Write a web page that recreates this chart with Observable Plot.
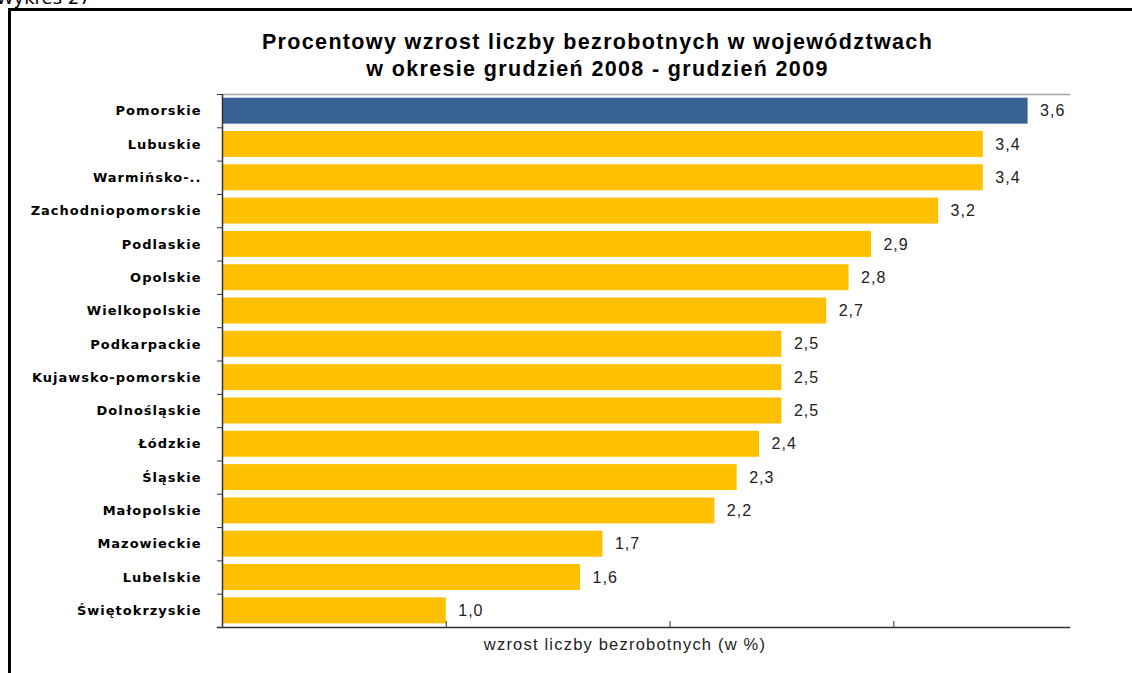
<!DOCTYPE html>
<html>
<head>
<meta charset="utf-8">
<script src="https://cdn.jsdelivr.net/npm/d3@7"></script>
<script src="https://cdn.jsdelivr.net/npm/@observablehq/plot@0.6"></script>
<style>
  html, body { margin: 0; padding: 0; background: #fff; overflow: hidden; width: 1132px; height: 673px; }
  #wrap { position: relative; width: 1132px; height: 673px; overflow: hidden; }
  #frame { position: absolute; left: 8px; top: 8px; width: 1140px; height: 700px; border: 3px solid #000; box-sizing: border-box; }
  #caption { position: absolute; left: -4px; top: -13px; font-family: "DejaVu Sans", Verdana, sans-serif; font-size: 18px; color: #000; white-space: nowrap; }
  #title { position: absolute; left: 0; width: 1195px; top: 29px; text-align: center; font-family: "Liberation Sans", Arial, sans-serif; font-weight: bold; font-size: 21.5px; letter-spacing: 1.35px; line-height: 27px; color: #000; }
  #chart { position: absolute; left: 0; top: 0; }
  #chart svg { background: transparent; }
  #chart g[aria-label="y-axis tick label"] text { letter-spacing: 1px; }
  #chart g.vals text { letter-spacing: 1px; }
  #chart g.xlab text { letter-spacing: 1.2px; }
</style>
</head>
<body>
<div id="wrap">
  <div id="caption">Wykres 27</div>
  <div id="frame"></div>
  <div id="title">Procentowy wzrost liczby bezrobotnych w województwach<br>w okresie grudzień 2008 - grudzień 2009</div>
  <div id="chart"></div>
</div>
<script>
const regions = ["Pomorskie","Lubuskie","Warmińsko-..","Zachodniopomorskie","Podlaskie","Opolskie","Wielkopolskie","Podkarpackie","Kujawsko-pomorskie","Dolnośląskie","Łódzkie","Śląskie","Małopolskie","Mazowieckie","Lubelskie","Świętokrzyskie"];
const values = [3.6,3.4,3.4,3.2,2.9,2.8,2.7,2.5,2.5,2.5,2.4,2.3,2.2,1.7,1.6,1.0];
const highlight = ["Pomorskie"];
const xTicks = [1,2,3];
const xLabel = "wzrost liczby bezrobotnych (w %)";

const data = regions.map((r, i) => ({region: r, value: values[i]}));

const W = 1132, H = 673;
const mTop = 94, mBottom = 46, mLeft = 222, mRight = 63;
const step = (H - mTop - mBottom) / regions.length;

const plot = Plot.plot({
  width: W,
  height: H,
  marginTop: mTop,
  marginBottom: mBottom,
  marginLeft: mLeft,
  marginRight: mRight,
  style: {background: "transparent", fontFamily: "DejaVu Sans, Verdana, sans-serif"},
  x: {domain: [0, 3.785], axis: null},
  y: {domain: regions, paddingInner: 0.22, paddingOuter: 0.11, round: false, axis: null},
  marks: [
    Plot.frame({anchor: "top", stroke: "#a6a6a6", strokeWidth: 1.5}),
    Plot.barX(data, {
      y: "region", x: "value",
      fill: d => highlight.includes(d.region) ? "#376193" : "#ffc000"
    }),
    Plot.text(data, {
      y: "region", x: "value",
      text: d => d.value.toFixed(1).replace(".", ","),
      dx: 12, textAnchor: "start", className: "vals",
      fontFamily: "Liberation Sans, Arial, sans-serif", fontSize: 16, fill: "#222"
    }),
    Plot.axisY({
      tickSize: 0, tickPadding: 21,
      fontFamily: "DejaVu Sans, Verdana, sans-serif", fontWeight: "bold", fontSize: 13, fill: "#000",
      label: null
    }),
    // category separators on the y axis (between bands)
    Plot.ruleY(regions, {y: d => d, dy: -step / 2, x1: 0, x2: 0, insetLeft: -5, stroke: "#333", strokeWidth: 1}),
    Plot.ruleY(regions.slice(-1), {y: d => d, dy: step / 2, x1: 0, x2: 0, insetLeft: -5, stroke: "#333", strokeWidth: 1}),
    Plot.ruleX([0], {stroke: "#333", strokeWidth: 1.5}),
    Plot.frame({anchor: "bottom", stroke: "#333", strokeWidth: 1.5, insetLeft: -5}),
    Plot.axisX({
      ticks: xTicks, tickSize: 6, dy: -6, tickFormat: () => "",
      stroke: "#333", label: null
    }),
    Plot.text([xLabel], {
      frameAnchor: "bottom", text: d => d, dy: 22, dx: -21, className: "xlab",
      fontFamily: "Liberation Sans, Arial, sans-serif", fontSize: 16.5, fill: "#222"
    })
  ]
});
document.getElementById("chart").appendChild(plot);
</script>
</body>
</html>
